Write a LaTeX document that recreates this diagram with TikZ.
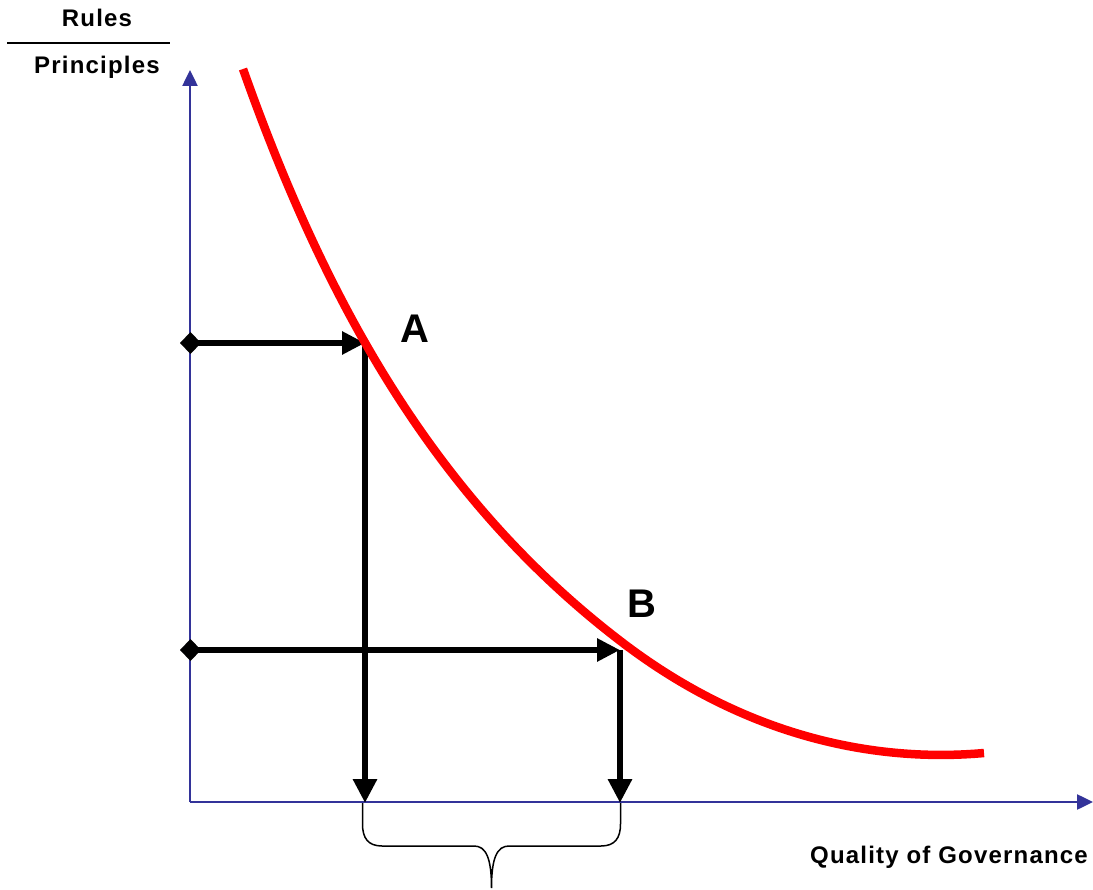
\documentclass[tikz,border=0pt]{standalone}
\usepackage{fontspec}
\setmainfont{Liberation Sans}
\usetikzlibrary{arrows.meta}
\definecolor{axisblue}{RGB}{51,51,153}

\begin{document}
\begin{tikzpicture}
	[x=1pt,y=-1pt,
	 axis/.style={axisblue,line width=2.5pt,-{Triangle[length=16pt,width=15pt]}},
	 level/.style={line width=6.5pt,{Diamond[length=21pt,width=22pt]}-{Triangle[length=23pt,width=22pt]}},
	 drop/.style={line width=6.5pt,-{Triangle[length=24pt,width=23pt]}},
	 demand/.style={red,line width=8.5pt},
	 axislabel/.style={font=\fontsize{24}{28}\selectfont\bfseries\addfontfeature{LetterSpace=5},inner sep=0pt,anchor=base},
	 pointlabel/.style={font=\fontsize{40}{44}\selectfont\bfseries,inner sep=0pt,anchor=base}]
	\useasboundingbox (0,0) rectangle (1093,890);
	% axes
	\coordinate (O) at (190,802);
	\coordinate (Ytop) at (190,70);
	\coordinate (Xend) at (1093,802);
	\draw[axis] (O) -- (Ytop);
	\draw[axis] (O) -- (Xend);
	% axis labels
	\node[axislabel] (rules) at (97,27) {Rules};
	\node[axislabel] (princ) at (97,74) {Principles};
	\coordinate (barL) at (7,43);
	\coordinate (barR) at (170,43);
	\draw[line width=2pt] (barL) -- (barR);
	\node[axislabel] (qog) at (949,863) {Quality of Governance};

	% points on the curve and their projections
	\coordinate (A) at (365,343);
	\coordinate (B) at (620,650);
	\coordinate (yA) at (180,343);
	\coordinate (yB) at (180,650);
	\coordinate (xA) at (365,803);
	\coordinate (xB) at (620,803);

	\draw[level] (yA) -- (A);
	\draw[drop] (A) -- (xA);
	\draw[level] (yB) -- (B);
	\draw[drop] (B) -- (xB);

	% brace under the axis
	\draw[line width=1.5pt] (362.5,803) -- (362.5,824)
		.. controls (362.5,838) and (368,846) .. (382,846) -- (474,846)
		.. controls (486,846) and (491.5,858) .. (491.5,888)
		.. controls (491.5,858) and (497,846) .. (509,846) -- (601,846)
		.. controls (615,846) and (620.5,838) .. (620.5,824) -- (620.5,803);

	% curve
	\coordinate (cTop) at (243,69);
	\coordinate (cMid) at (623,643);
	\coordinate (cEnd) at (984,753);
	\draw[demand] (cTop) .. controls (324.6,299.4) and (433,498.6) .. (cMid)
		.. controls (753,741.8) and (884,762) .. (cEnd);

	\node[pointlabel] (lA) at (414.5,343) {A};
	\node[pointlabel] (lB) at (641.5,617) {B};
\end{tikzpicture}
\end{document}
